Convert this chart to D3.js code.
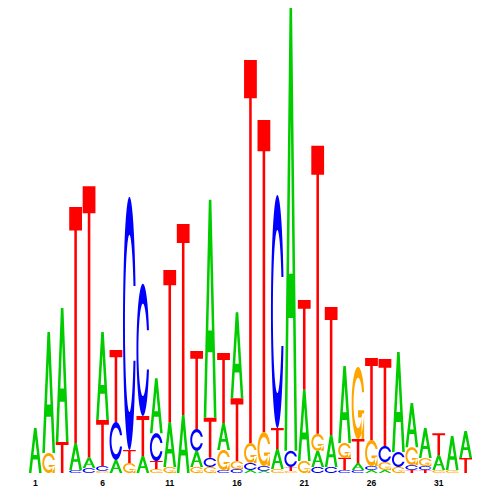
<!DOCTYPE html>
<html><head><meta charset="utf-8">
<script src="https://cdn.jsdelivr.net/npm/d3@7"></script>
<style>html,body{margin:0;padding:0;background:#fff;} svg{display:block;}</style>
</head><body>
<svg id="chart" width="500" height="500"></svg>
<script>
// Sequence logo data: information (bits) carried by each base at each position
const positions = d3.range(1, 34);
const bases = ["A", "C", "G", "T"];
const bitsA = [0.193,0.519,0.575,0.116,0.047,0.378,0.056,0,0.073,0.236,0.193,0.249,0.069,0.936,0.116,0.369,0.013,0.009,0.086,1.901,0.305,0.069,0.137,0.330,0.030,0.013,0.013,0.429,0.189,0.129,0.064,0.146,0.116];
const bitsC = [0,0,0,0.013,0.021,0.021,0.163,1.086,0.567,0.120,0,0,0.094,0.039,0.013,0.017,0.030,0.021,1.000,0.069,0,0.026,0.026,0.013,0.013,0.017,0.069,0.064,0.021,0.017,0,0,0];
const bitsG = [0,0.086,0,0,0,0.009,0,0.043,0,0.017,0.026,0,0.026,0.026,0.086,0.034,0.086,0.146,0.017,0.009,0.052,0.073,0,0.064,0.309,0.112,0.034,0.026,0.077,0.034,0.013,0.013,0];
const bitsT = [0,0,0.133,1.013,1.163,0.197,0.309,0.056,0.172,0.034,0.652,0.820,0.335,0.172,0.300,0.270,1.644,1.339,0.090,0.017,0.386,1.236,0.549,0.052,0.103,0.352,0.373,0,0.013,0.013,0.094,0,0.064];
const tickLabels = [1, 6, 11, 16, 21, 26, 31];
const baseColors = {A: "#00cc00", C: "#0000ff", G: "#ffa500", T: "#ff0000"};

const series = {A: bitsA, C: bitsC, G: bitsG, T: bitsT};

const svg = d3.select("#chart");
const x = d3.scaleBand().domain(positions).range([28.2, 472.7]).padding(0.05);
const y = d3.scaleLinear().domain([0, 2]).range([473, 7]);

// ---- letter outlines in unit square (x right, y up) ----
function ringC() {
  const n = 100;
  const s1 = 0.3 + Math.PI / 2;
  const a1 = d3.range(n).map(i => s1 + i * (Math.PI - s1) / (n - 1));
  const a2 = d3.range(n).map(i => Math.PI + i * (0.5 * Math.PI) / (n - 1));
  const pt = r => a => [0.5 + r * Math.sin(a), 0.5 + r * Math.cos(a)];
  const l1 = a1.map(pt(0.5)), l2 = a2.map(pt(0.5));
  const l = l1.concat(l2);
  const outer = l.concat(l.slice().reverse().map(p => [p[0], 1 - p[1]]));
  const maxY = d3.max(l1, p => p[1]);
  const i1 = a1.map(pt(0.35)).filter(p => p[1] <= maxY);
  i1[0] = [i1[0][0], maxY];
  const inn = i1.concat(a2.map(pt(0.35)));
  const inner = inn.concat(inn.slice().reverse().map(p => [p[0], 1 - p[1]]));
  return {ring: outer.concat(inner.slice().reverse()), r1: d3.max(l1, p => p[0])};
}
const cShape = ringC();
const shapes = {
  A: [
    [[0,0],[0.4,1],[0.6,1],[1,0],[0.8,0],[0.68,0.3],[0.32,0.3],[0.2,0]],
    [[0.36,0.4],[0.5,0.75],[0.64,0.4]]
  ],
  T: [[[0,1],[1,1],[1,0.9],[0.6,0.9],[0.6,0],[0.4,0],[0.4,0.9],[0,0.9]]],
  C: [cShape.ring],
  G: [cShape.ring, (() => { const r1 = cShape.r1, h1 = 0.4;
        return [[r1,h1],[0.5,h1],[0.5,h1-0.1],[r1-0.2,h1-0.1],[r1-0.2,0],[r1,0]]; })()]
};

function letterPath(base, x0, w, yBottom, h) {
  return shapes[base].map(poly =>
    "M" + poly.map(p => [x0 + w * p[0], yBottom - h * p[1]].map(v => v.toFixed(2)).join(",")).join("L") + "Z"
  ).join("");
}

// ---- stacked letters ----
const stacks = positions.map((pos, i) => {
  const items = bases.map(b => ({base: b, value: series[b][i]}))
    .filter(d => d.value > 0)
    .sort((a, b) => a.value - b.value);
  let cum = 0;
  items.forEach(d => { d.y0 = cum; cum += d.value; d.y1 = cum; d.pos = pos; });
  return items;
});

const g = svg.append("g");
g.selectAll("g.col").data(stacks).join("g").attr("class", "col")
  .selectAll("path").data(d => d).join("path")
  .attr("d", d => letterPath(d.base, x(d.pos), x.bandwidth(), y(d.y0), y(d.y0) - y(d.y1)))
  .attr("fill", d => baseColors[d.base])
  .attr("fill-rule", "evenodd");

// ---- position axis ----
const axis = svg.append("g").attr("transform", `translate(0,${y(0)})`)
  .call(d3.axisBottom(x).tickValues(tickLabels).tickSize(0).tickPadding(7));
axis.select(".domain").remove();
axis.selectAll("text")
  .attr("font-family", "'Liberation Sans', Arial, sans-serif")
  .attr("font-size", "8.5px")
  .attr("font-weight", "bold")
  .attr("fill", "#000");
</script>
</body></html>
